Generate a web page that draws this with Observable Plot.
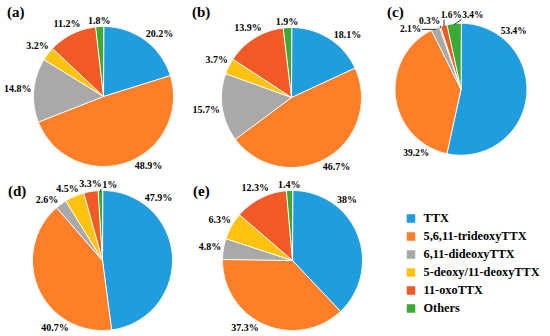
<!DOCTYPE html>
<html><head><meta charset="utf-8">
<script src="https://cdn.jsdelivr.net/npm/d3@7"></script>
<script src="https://cdn.jsdelivr.net/npm/@observablehq/plot@0.6"></script>
<style>
html,body{margin:0;padding:0;background:#fff;}
#root{position:relative;width:550px;height:336px;overflow:hidden;background:#fff;}
.pane{position:absolute;}
.pane svg{overflow:visible;background:none;font-family:"Liberation Serif","Times New Roman","DejaVu Serif",serif;}
.tag{position:absolute;font-weight:bold;font-size:15px;font-family:"Liberation Serif","Times New Roman","DejaVu Serif",serif;line-height:1;color:#000;}
</style></head><body><div id="root"></div>
<script>
// ---- data ----
const categories = ["TTX","5,6,11-trideoxyTTX","6,11-dideoxyTTX","5-deoxy/11-deoxyTTX","11-oxoTTX","Others"];
const colors = ["#1f9ddf","#fe7f27","#a9a9a9","#ffc20e","#f15a24","#3aaa35"];
const panelTags = ["(a)","(b)","(c)","(d)","(e)"];
const valuesA = [20.2,48.9,14.8,3.2,11.2,1.8];
const valuesB = [18.1,46.7,15.7,3.7,13.9,1.9];
const valuesC = [53.4,39.2,2.1,0.3,1.6,3.4];
const valuesD = [47.9,40.7,2.6,4.5,3.3,1];
const valuesE = [38,37.3,4.8,6.3,12.3,1.4];
const allValues = [valuesA,valuesB,valuesC,valuesD,valuesE];

// ---- layout ----
const FONT = "Liberation Serif, Times New Roman, DejaVu Serif, serif";
const R = 70;            // pie radius in px (1 data unit)
const PW = 190, PH = 180;
const centers = [[103,96],[291,97],[466,94],[102,260],[292,260]];
const tagPos = [[7,18],[192,18],[387,18],[8,197],[193,197]];
const anchors = [42,147,215,318]; // preferred label angles for big slices (deg, clockwise from 12 o'clock)
const FS = 10, LH = 7, PAD = 2;

const root = document.getElementById("root");
const colorScale = {domain: categories, range: colors};

function textW(s){ let w=0; for (const c of s) w += (c==="%"?1.0:(c==="."?0.25:0.5)); return w*FS; }

function buildPie(values){
  const rows = categories.map((cat,i)=>({cat, v: values[i]}));
  const arcs = d3.pie().sort(null).value(d=>d.v)(rows);
  const poly = [];
  for (const a of arcs){
    poly.push({cat:a.data.cat, x:0, y:0});
    const n = Math.max(2, Math.ceil((a.endAngle-a.startAngle)/(Math.PI/180)));
    for (let k=0;k<=n;k++){
      const t = a.startAngle + (a.endAngle-a.startAngle)*k/n;
      poly.push({cat:a.data.cat, x:Math.sin(t), y:Math.cos(t)});
    }
  }
  const labs = arcs.map(a=>{
    const s0=a.startAngle*180/Math.PI, s1=a.endAngle*180/Math.PI;
    const mid=(s0+s1)/2;
    let ang = mid;
    const an = anchors.find(t=>t>=s0+15 && t<=s1-15);
    if (an!==undefined) ang = an;
    const rad=ang*Math.PI/180, sn=Math.sin(rad), cs=Math.cos(rad);
    const text = a.data.v + "%";
    const w = textW(text);
    const d = R + PAD + Math.abs(sn)*w/2 + Math.abs(cs)*LH/2;
    return {cat:a.data.cat, text, w, ang, mid, half:(s1-s0)/2, x:sn*d, y:-cs*d};
  });
  // order-preserving overlap removal, moving labels along the circle's tangent
  const order = labs.slice().sort((p,q)=>p.x-q.x);
  function shift(L, dx){
    const rad=L.ang*Math.PI/180, tx=Math.cos(rad), ty=Math.sin(rad);
    L.x += dx;
    if (Math.abs(tx)>0.3) L.y += dx*ty/tx;
  }
  for (let it=0; it<300; it++){
    let moved=false;
    for (let i=0;i<order.length;i++) for (let j=i+1;j<order.length;j++){
      const A=order[i], B=order[j];
      const oy=(LH+1)-Math.abs(A.y-B.y);
      const ox=(A.w+B.w)/2+0.5-(B.x-A.x);
      if (oy>0 && ox>0.01){ shift(A,-ox/2); shift(B,ox/2); moved=true; }
    }
    if(!moved) break;
  }
  const leaders=[];
  for (const L of labs){
    let la = Math.atan2(L.x, -L.y)*180/Math.PI; if (la<0) la+=360;
    let diff = Math.abs(la-L.ang); if (diff>180) diff=360-diff;
    if (diff > L.half+3){
      const rad=L.mid*Math.PI/180;
      const px=Math.sin(rad)*(R-1), py=-Math.cos(rad)*(R-1);
      const ex=Math.max(L.x-L.w/2-1, Math.min(L.x+L.w/2+1, px));
      const ey=Math.max(L.y-LH/2-1, Math.min(L.y+LH/2+1, py));
      leaders.push({x1:px/R, y1:-py/R, x2:ex/R, y2:-ey/R});
    }
  }
  const labData = labs.map(L=>({text:L.text, x:L.x/R, y:-L.y/R}));
  return {poly, labData, leaders};
}

allValues.forEach((vals,i)=>{
  const {poly, labData, leaders} = buildPie(vals);
  const xr=PW/2/R, yr=PH/2/R;
  const svg = Plot.plot({
    width: PW, height: PH, margin: 0,
    x: {domain:[-xr,xr], axis:null},
    y: {domain:[-yr,yr], axis:null},
    color: colorScale,
    style: {background:"none", overflow:"visible", fontFamily: FONT},
    marks: [
      Plot.line(poly, {x:"x", y:"y", z:"cat", fill:"cat", stroke:"white", strokeWidth:1, curve:"linear-closed", strokeLinejoin:"miter"}),
      Plot.link(leaders, {x1:"x1", y1:"y1", x2:"x2", y2:"y2", stroke:"#222", strokeWidth:1}),
      Plot.text(labData, {x:"x", y:"y", text:"text", fill:"#000", fontSize:FS, fontWeight:"bold", fontFamily:FONT})
    ]
  });
  const pane=document.createElement("div");
  pane.className="pane";
  pane.style.left=(centers[i][0]-PW/2)+"px";
  pane.style.top=(centers[i][1]-PH/2)+"px";
  pane.appendChild(svg);
  root.appendChild(pane);
  const tag=document.createElement("div");
  tag.className="tag";
  tag.textContent=panelTags[i];
  tag.style.left=tagPos[i][0]+"px";
  tag.style.top=(tagPos[i][1]-12.6)+"px";
  root.appendChild(tag);
});

// legend
const LW=152, LHt=135;
const legend = Plot.plot({
  width: LW, height: LHt, margin: 0,
  x: {domain:[0,LW], range:[0,LW], axis:null},
  y: {type:"point", domain: categories, range:[12.5,124.5], axis:null},
  color: colorScale,
  style: {background:"none", overflow:"visible", fontFamily: FONT},
  marks: [
    Plot.dot(categories, {x:()=>12.5, y:d=>d, fill:d=>d, symbol:"square", r:4.8}),
    Plot.text(categories, {x:()=>25, y:d=>d, text:d=>d, textAnchor:"start", fill:"#000", fontSize:12.3, fontWeight:"bold", fontFamily:FONT})
  ]
});
const lp=document.createElement("div");
lp.className="pane"; lp.style.left="398px"; lp.style.top="194px";
lp.appendChild(legend); root.appendChild(lp);
</script></body></html>
